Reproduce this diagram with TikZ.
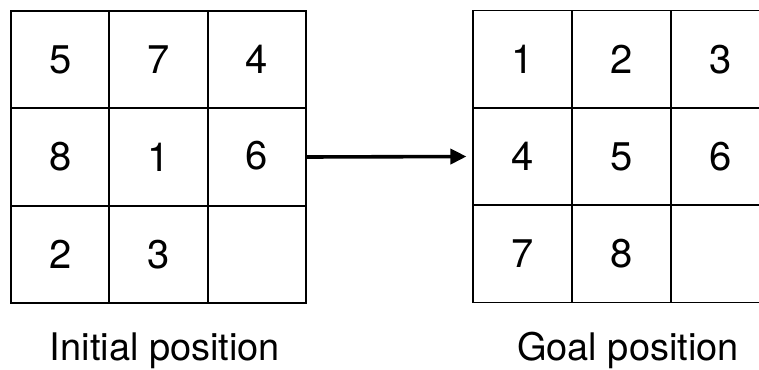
\documentclass[tikz,border=0pt]{standalone}
\usepackage{fontspec}
\setmainfont{TeX Gyre Heros}
\usetikzlibrary{arrows.meta}

\tikzset{
  cell/.style={draw, line width=1.8pt, inner sep=0pt,
    minimum width=98.3pt, minimum height=97.3pt, font=\fontsize{40}{40}\selectfont},
  caption/.style={anchor=base, inner sep=0pt, font=\fontsize{38}{38}\selectfont},
  move/.style={line width=3.6pt, -{Triangle[length=16pt,width=15pt]}}
}

\begin{document}
\begin{tikzpicture}[x=1pt, y=-1pt]
  \useasboundingbox (0,0) rectangle (759,369);
  \clip (0,0) rectangle (759,369);
  \fill[white] (0,0) rectangle (759,369);

  % initial board
  \node[cell] (a11) at (60.2,59.7)   {5};
  \node[cell] (a12) at (158.5,59.7)  {7};
  \node[cell] (a13) at (256.8,59.7)  {4};
  \node[cell] (a21) at (60.2,157)    {8};
  \node[cell] (a22) at (158.5,157)   {1};
  \node[cell] (a23) at (256.8,157)   {\raisebox{4pt}{6}};
  \node[cell] (a31) at (60.2,254.3)  {2};
  \node[cell] (a32) at (158.5,254.3) {3};
  \node[cell] (a33) at (256.8,254.3) {};

  % goal board
  \node[cell] (b11) at (522.5,59.2)  {1};
  \node[cell] (b12) at (621.5,59.2)  {2};
  \node[cell] (b13) at (720.5,59.2)  {3};
  \node[cell] (b21) at (522.5,156.5) {4};
  \node[cell] (b22) at (621.5,156.5) {5};
  \node[cell] (b23) at (720.5,156.5) {6};
  \node[cell] (b31) at (522.5,253.8) {7};
  \node[cell] (b32) at (621.5,253.8) {8};
  \node[cell] (b33) at (720.5,253.8) {};

  % move from initial to goal
  \draw[move] (a23.east) -- ([xshift=-6pt]b21.west);

  % captions
  \node[caption] (capA) at (165,360) {Initial position};
  \node[caption] (capB) at (628,360) {Goal position};
\end{tikzpicture}
\end{document}
